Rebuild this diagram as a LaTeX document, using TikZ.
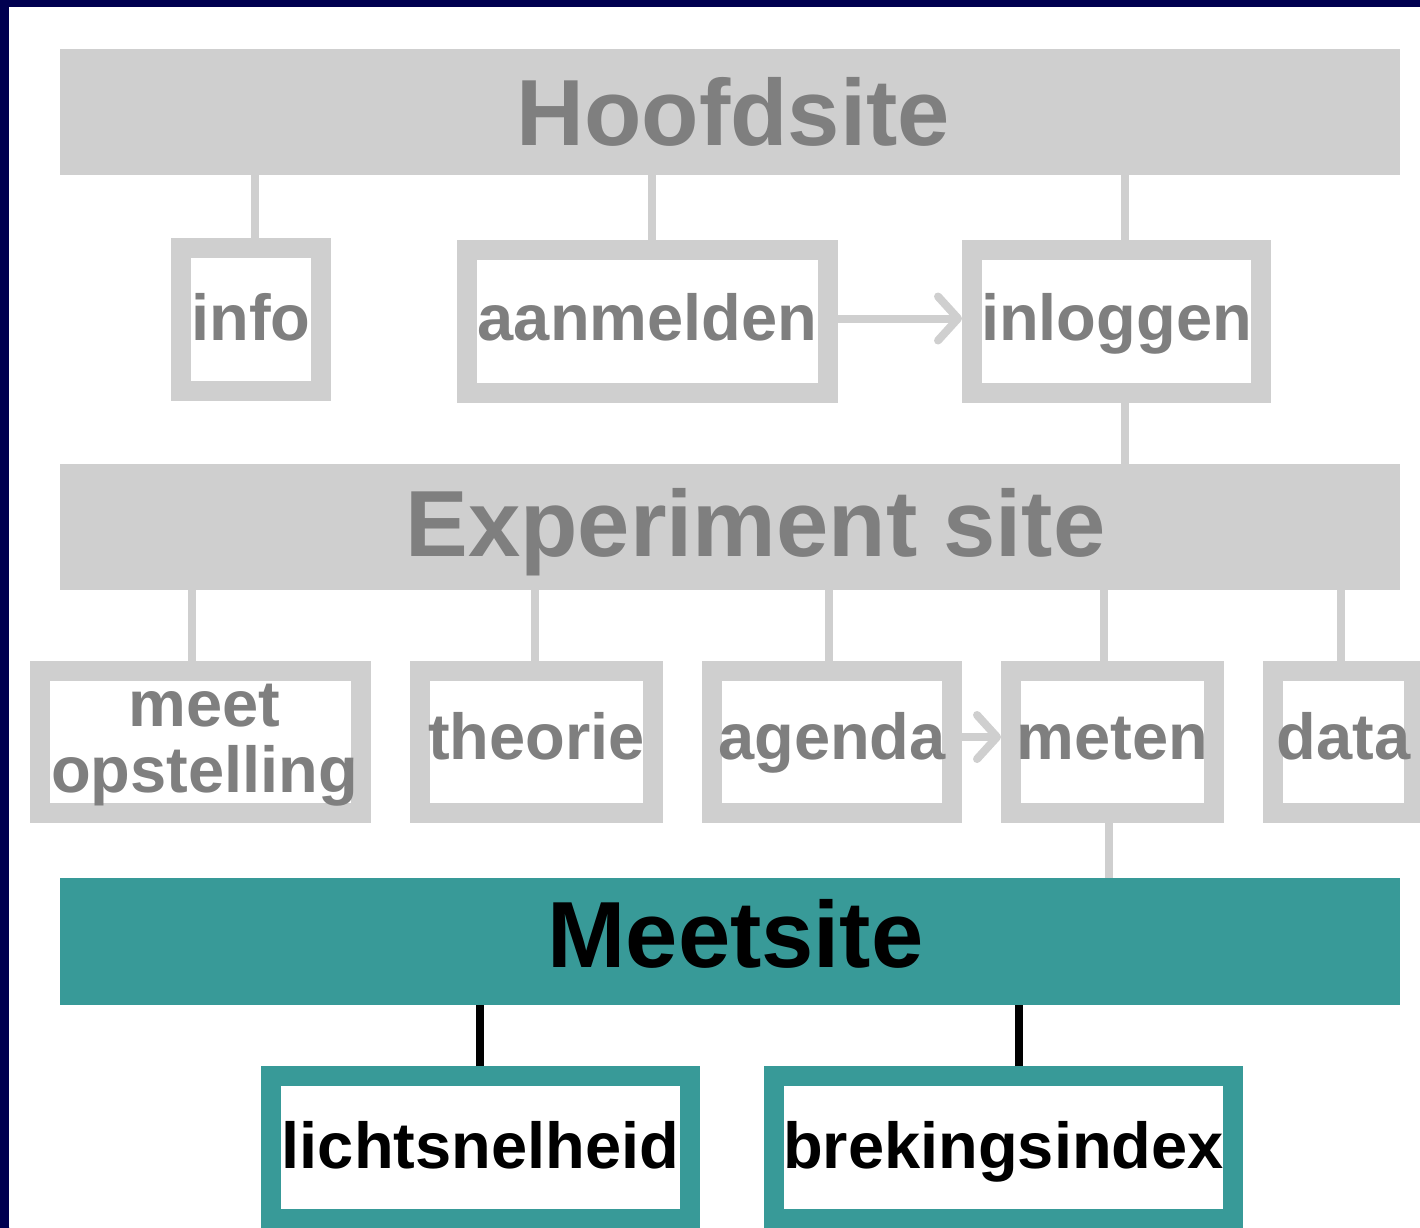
\documentclass[tikz,border=0pt]{standalone}
\usepackage{fontspec}
\setmainfont{Liberation Sans}
\usetikzlibrary{arrows.meta}
\definecolor{lgray}{HTML}{CFCFCF}
\definecolor{tgray}{HTML}{7F7F7F}
\definecolor{tealc}{HTML}{389A98}
\definecolor{navyc}{HTML}{000050}
\definecolor{bluec}{HTML}{0000A0}
\begin{document}
\begin{tikzpicture}[x=1pt,y=-1pt,
  bar/.style={rectangle, inner sep=0pt, minimum width=1340pt, minimum height=126pt, text height=70pt, font=\fontsize{94}{94}\selectfont\bfseries},
  greybar/.style={bar, fill=lgray, text=tgray},
  tealbar/.style={bar, fill=tealc, text=black},
  sbox/.style={rectangle, fill=white, line width=20pt, inner sep=0pt, minimum height=143pt, text height=50pt, font=\fontsize{65}{65}\selectfont\bfseries},
  greybox/.style={sbox, draw=lgray, text=tgray},
  tealbox/.style={sbox, draw=tealc, text=black},
  conn/.style={draw=lgray, line width=8pt},
  bconn/.style={draw=black, line width=8pt},
  flow/.style={draw=lgray, line width=8pt, -{Straight Barb[length=20pt,width=44pt,round]}},
]
\useasboundingbox (0,0) rectangle (1420,1227);
% frame
\fill[navyc] (0,0) rectangle (1420,1227);
\shade[top color=navyc, middle color=bluec, bottom color=navyc] (0,0) rectangle (9,1227);
\fill[white] (9,6.5) rectangle (1420,1227);

% bars
\node[greybar, text depth=4pt] (hoofd) at (730,112) {\hspace*{6pt}Hoofdsite};
\node[greybar, text depth=11pt] (exp) at (730,527) {\hspace*{51pt}Experiment site};
\node[tealbar, minimum height=127pt, text depth=19pt] (meetsite) at (730,941.5) {\hspace*{11pt}Meetsite};

% row 2
\node[greybox, minimum width=140pt, text depth=9pt] (info) at (251,319.5) {info};
\node[greybox, minimum width=361pt, text depth=13pt] (aanm) at (647.5,321.5) {aanmelden};
\node[greybox, minimum width=289pt, text depth=13pt] (inlog) at (1116.5,321.5) {inloggen};

% row 3
\node[greybox, minimum width=321pt, minimum height=142pt, text depth=82pt] (meet) at (200.5,742)
  {\hspace*{8pt}\begin{tabular}[t]{@{}c@{}}meet\\opstelling\end{tabular}};
\node[greybox, minimum width=233pt, minimum height=142pt, text depth=16pt] (theo) at (536.5,742) {theorie};
\node[greybox, minimum width=240pt, minimum height=142pt, text depth=16pt] (agen) at (832,742) {agenda};
\node[greybox, minimum width=203pt, minimum height=142pt, text depth=16pt] (meten) at (1112.5,742) {meten};
\node[greybox, minimum width=141pt, minimum height=142pt, text depth=16pt] (data) at (1343.5,742) {data};

% row 4
\node[tealbox, minimum width=419pt, text depth=9pt] (licht) at (480.5,1147.5) {lichtsnelheid};
\node[tealbox, minimum width=459pt, text depth=9pt] (brek) at (1003.5,1147.5) {brekingsindex};

% connectors Hoofdsite
\coordinate (c1) at ([xshift=4pt]info.north);
\coordinate (c2) at ([xshift=4pt]aanm.north);
\coordinate (c3) at ([xshift=8pt]inlog.north);
\coordinate (c4) at ([xshift=8pt]inlog.south);
\draw[conn] (c1) -- (c1 |- hoofd.south);
\draw[conn] (c2) -- (c2 |- hoofd.south);
\draw[conn] (c3) -- (c3 |- hoofd.south);
\draw[conn] (c4) -- (c4 |- exp.north);
\draw[flow] ([yshift=3pt]aanm.east) -- ([yshift=3pt]inlog.west);

% connectors Experiment site
\coordinate (d1) at ([xshift=-9pt]meet.north);
\coordinate (d2) at ([xshift=-2pt]theo.north);
\coordinate (d3) at ([xshift=-3pt]agen.north);
\coordinate (d4) at ([xshift=-9pt]meten.north);
\coordinate (d5) at ([xshift=-3pt]data.north);
\coordinate (d6) at ([xshift=-4pt]meten.south);
\draw[conn] (d1) -- (d1 |- exp.south);
\draw[conn] (d2) -- (d2 |- exp.south);
\draw[conn] (d3) -- (d3 |- exp.south);
\draw[conn] (d4) -- (d4 |- exp.south);
\draw[conn] (d5) -- (d5 |- exp.south);
\draw[conn] (d6) -- (d6 |- meetsite.north);
\draw[flow] ([yshift=5pt]agen.east) -- ([yshift=5pt]meten.west);

% connectors Meetsite
\coordinate (e1) at ([xshift=-1pt]licht.north);
\coordinate (e2) at ([xshift=15pt]brek.north);
\draw[bconn] (e1) -- (e1 |- meetsite.south);
\draw[bconn] (e2) -- (e2 |- meetsite.south);
\end{tikzpicture}
\end{document}
